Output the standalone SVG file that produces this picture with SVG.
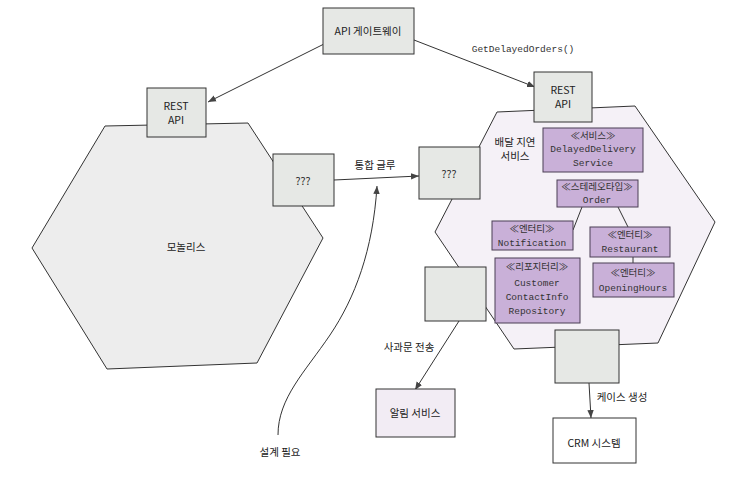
<svg xmlns="http://www.w3.org/2000/svg" width="744" height="503" viewBox="0 0 744 503">
<defs>
<style>
.k{font-family:"Noto Sans CJK KR","Noto Sans",sans-serif;font-size:10.5px;fill:#222;text-anchor:middle}
.m{font-family:"Liberation Mono","DejaVu Sans Mono","Noto Sans CJK KR",monospace;font-size:9.5px;fill:#333;text-anchor:middle}
.g{font-family:"Noto Sans CJK KR",sans-serif;font-size:9.5px;fill:#333;text-anchor:middle}
.box{fill:#e6e8e5;stroke:#333;stroke-width:1}
.pb{fill:#c9b0d8;stroke:#4b3f55;stroke-width:1}
.ln{stroke:#333;stroke-width:1;fill:none}
</style>
<marker id="ah" viewBox="0 0 10 10" refX="10" refY="5" markerWidth="8" markerHeight="8" orient="auto" markerUnits="userSpaceOnUse">
<path d="M0,1 L10,5 L0,9 Z" fill="#444"/>
</marker>
</defs>
<rect width="744" height="503" fill="#ffffff"/>

<g id="monolith">
<polygon points="105,126 248,123 323,238 257,363 107,369 32,248" fill="#ededed" stroke="#333" stroke-width="1"/>
<text class="k" x="186" y="251">모놀리스</text>
</g>

<g id="delay-service">
<polygon points="497,112 635,106 715,222 658,343 514,349 435,232" fill="#f5f1f7" stroke="#333" stroke-width="1"/>
<text class="k" x="515" y="146">배달 지연</text>
<text class="k" x="515" y="160">서비스</text>
</g>

<g id="connectors">
<line class="ln" x1="324" y1="44" x2="208" y2="102" marker-end="url(#ah)"/>
<line class="ln" x1="414" y1="40" x2="535" y2="87" marker-end="url(#ah)"/>
<line class="ln" x1="334" y1="180" x2="419" y2="176" marker-end="url(#ah)"/>
<line class="ln" x1="459" y1="321" x2="415" y2="390" marker-end="url(#ah)"/>
<line class="ln" x1="589" y1="383" x2="591" y2="418" marker-end="url(#ah)"/>
<path class="ln" d="M278,435 C278,398 305,372 330,335 C355,298 373,250 377,186" marker-end="url(#ah)"/>
<line class="ln" x1="582" y1="207" x2="573" y2="230"/>
<line class="ln" x1="618" y1="207" x2="628" y2="227"/>
<line class="ln" x1="633" y1="257" x2="633" y2="263"/>
<text class="m" x="523" y="52">GetDelayedOrders()</text>
<text class="k" x="375" y="169">통합 글루</text>
<text class="k" x="409" y="351">사과문 전송</text>
<text class="k" x="622" y="401">케이스 생성</text>
<text class="k" x="280" y="456">설계 필요</text>
</g>

<g id="api-gateway">
<rect class="box" x="323" y="8" width="91" height="46"/>
<text class="k" x="368" y="35">API 게이트웨이</text>
</g>

<g id="rest-api-left">
<rect class="box" x="147" y="88" width="59" height="49"/>
<text class="k" x="176" y="110">REST</text>
<text class="k" x="176" y="124">API</text>
</g>

<g id="glue-left">
<rect class="box" x="273" y="154" width="61" height="52"/>
<text class="k" x="303" y="185">???</text>
</g>

<g id="rest-api-right">
<rect class="box" x="534" y="72" width="58" height="50"/>
<text class="k" x="563" y="94">REST</text>
<text class="k" x="563" y="108">API</text>
</g>

<g id="glue-right">
<rect class="box" x="419" y="147" width="61" height="52"/>
<text class="k" x="449" y="178">???</text>
</g>

<g id="notify-adapter">
<rect class="box" x="425" y="267" width="61" height="54"/>
</g>

<g id="crm-adapter">
<rect class="box" x="555" y="330" width="64" height="53"/>
</g>

<g id="svc-delayed">
<rect class="pb" x="543" y="128" width="100" height="44"/>
<text class="g" x="593" y="139">≪서비스≫</text>
<text class="m" x="593" y="152">DelayedDelivery</text>
<text class="m" x="593" y="166">Service</text>
</g>

<g id="order">
<rect class="pb" x="557" y="180" width="81" height="27"/>
<text class="g" x="597" y="190">≪스테레오타입≫</text>
<text class="m" x="597" y="203">Order</text>
</g>

<g id="notification">
<rect class="pb" x="492" y="221" width="81" height="29"/>
<text class="g" x="532" y="232">≪엔터티≫</text>
<text class="m" x="532" y="246">Notification</text>
</g>

<g id="restaurant">
<rect class="pb" x="590" y="227" width="80" height="30"/>
<text class="g" x="630" y="238">≪엔터티≫</text>
<text class="m" x="630" y="252">Restaurant</text>
</g>

<g id="opening-hours">
<rect class="pb" x="593" y="263" width="81" height="34"/>
<text class="g" x="633" y="276">≪엔터티≫</text>
<text class="m" x="633" y="291">OpeningHours</text>
</g>

<g id="repository">
<rect class="pb" x="495" y="258" width="85" height="65"/>
<text class="g" x="537" y="270">≪리포지터리≫</text>
<text class="m" x="537" y="286">Customer</text>
<text class="m" x="537" y="300">ContactInfo</text>
<text class="m" x="537" y="314">Repository</text>
</g>

<g id="notification-service">
<rect x="376" y="389" width="79" height="48" fill="#f2ecf4" stroke="#333" stroke-width="1"/>
<text class="k" x="415" y="417">알림 서비스</text>
</g>

<g id="crm-system">
<rect x="553" y="418" width="83" height="45" fill="#ffffff" stroke="#333" stroke-width="1"/>
<text class="k" x="594" y="447">CRM 시스템</text>
</g>
</svg>
